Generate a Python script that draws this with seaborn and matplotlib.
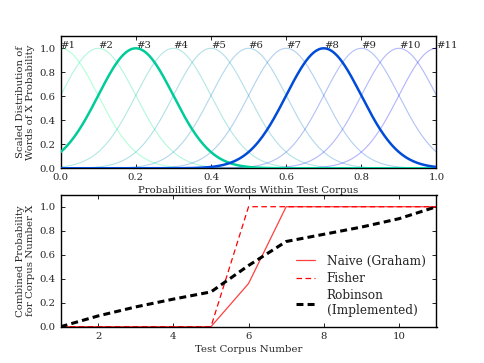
import numpy as np
import pandas as pd
import matplotlib
matplotlib.use("Agg")
import matplotlib.pyplot as plt
import seaborn as sns

# centros de las distribuciones (#1 .. #11)
centros = [0.0, 0.1, 0.2, 0.3, 0.4, 0.5, 0.6, 0.7, 0.8, 0.9, 1.0]
sigma = 0.1
destacados = [2, 7]  # #3 y #8

# probabilidades combinadas por corpus
corpus = [1, 2, 3, 4, 5, 6, 7, 8, 9, 10, 11]
naive = [0, 0, 0, 0, 0, 0.36, 1, 1, 1, 1, 1]
fisher = [0, 0, 0, 0, 0, 1, 1, 1, 1, 1, 1]
robinson = [0, 0.09, 0.165, 0.23, 0.29, 0.51, 0.71, 0.77, 0.83, 0.90, 1.0]

sns.set_style("ticks")
plt.rcParams['font.family'] = ['DejaVu Serif']
plt.rcParams['font.size'] = 7.3
plt.rcParams['lines.scale_dashes'] = False

fig = plt.figure(figsize=(4.85, 3.63), dpi=100)
ax1 = fig.add_axes([0.125, 0.5364, 0.775, 0.3636])
ax2 = fig.add_axes([0.125, 0.1, 0.775, 0.3636])

# grafico superior: distribuciones gaussianas
xs = np.linspace(0, 1, 301)
colores = plt.get_cmap('winter_r')(np.linspace(0, 1, len(centros)))
for i, c in enumerate(centros):
    df = pd.DataFrame({'x': xs, 'y': np.exp(-(xs - c) ** 2 / (2 * sigma ** 2))})
    if i in destacados:
        sns.lineplot(data=df, x='x', y='y', ax=ax1, color=colores[i], lw=1.8, zorder=3)
    else:
        sns.lineplot(data=df, x='x', y='y', ax=ax1, color=colores[i], lw=0.8, alpha=0.3)
    ax1.text(c, 1.02, '#%d' % (i + 1), ha='left', va='center', fontsize=7.3)

ax1.set_xlim(0, 1)
ax1.set_ylim(0, 1.1)
ax1.set_xticks([0, 0.2, 0.4, 0.6, 0.8, 1.0])
ax1.set_yticks([0, 0.2, 0.4, 0.6, 0.8, 1.0])
ax1.set_xlabel('Probabilities for Words Within Test Corpus', labelpad=3)
ax1.set_ylabel('Scaled Distribution of\nWords of X Probability', labelpad=3)

# grafico inferior: probabilidades combinadas
df2 = pd.DataFrame({'corpus': corpus, 'naive': naive, 'fisher': fisher, 'robinson': robinson})
sns.lineplot(data=df2, x='corpus', y='naive', ax=ax2, color='red', alpha=0.75, lw=0.9,
             label='Naive (Graham)')
sns.lineplot(data=df2, x='corpus', y='fisher', ax=ax2, color='red', lw=0.9, dashes=(4, 2.5),
             label='Fisher')
sns.lineplot(data=df2, x='corpus', y='robinson', ax=ax2, color='black', lw=2.2, dashes=(5, 3),
             label='Robinson\n(Implemented)')

ax2.set_xlim(1, 11)
ax2.set_ylim(0, 1.1)
ax2.set_xticks([2, 4, 6, 8, 10])
ax2.set_yticks([0, 0.2, 0.4, 0.6, 0.8, 1.0])
ax2.set_xlabel('Test Corpus Number', labelpad=3)
ax2.set_ylabel('Combined Probability\nfor Corpus Number X', labelpad=3)
ax2.legend(loc='lower right', frameon=False, fontsize=8.7, handlelength=1.5,
           handletextpad=1.0, labelspacing=0.35, bbox_to_anchor=(1.0, -0.01))

for ax in (ax1, ax2):
    ax.tick_params(direction='in', top=True, right=True, length=3, width=0.6,
                   color='black', pad=3.5)
    for s in ax.spines.values():
        s.set_linewidth(1)
        s.set_color('black')

fig.savefig('out.png', dpi=100)
